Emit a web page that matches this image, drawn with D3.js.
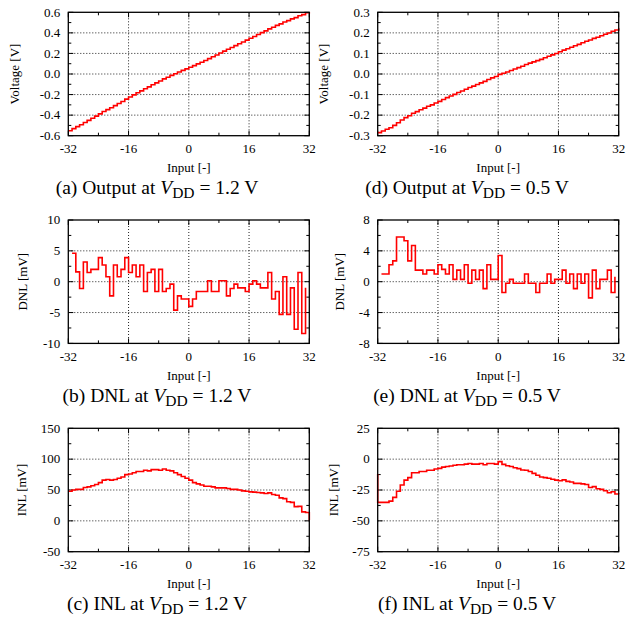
<!DOCTYPE html>
<html><head><meta charset="utf-8">
<script src="https://cdn.jsdelivr.net/npm/d3@7"></script>
<style>
body{margin:0;background:#fff}
text{font-family:"Liberation Serif","Times New Roman",serif;fill:#000}
</style>
</head><body>
<svg id="chart" width="629" height="619"></svg>
<script>
// ---------- data ----------
const xTicks = [-32, -16, 0, 16, 32];

// Output at VDD = 1.2 V (x = -32 .. 32)
const outHigh = [-0.552,-0.531,-0.512,-0.493,-0.471,-0.451,-0.431,-0.410,-0.388,-0.365,-0.346,-0.328,-0.308,-0.287,-0.267,-0.244,
  -0.224,-0.203,-0.183,-0.164,-0.143,-0.125,-0.105,-0.086,-0.068,-0.047,-0.031,-0.013,0.003,0.019,0.035,0.050,
  0.066,0.081,0.098,0.114,0.131,0.150,0.168,0.185,0.204,0.222,0.240,0.257,0.276,0.294,0.311,0.329,
  0.347,0.365,0.384,0.402,0.419,0.439,0.455,0.473,0.487,0.505,0.519,0.536,0.548,0.567,0.577,0.595,0.601];
// Output at VDD = 0.5 V (x = -32 .. 32)
const outLow = [-0.285,-0.277,-0.269,-0.261,-0.250,-0.237,-0.224,-0.212,-0.203,-0.191,-0.183,-0.174,-0.166,-0.157,-0.150,-0.141,
  -0.133,-0.124,-0.115,-0.107,-0.099,-0.090,-0.083,-0.074,-0.066,-0.059,-0.051,-0.043,-0.036,-0.027,-0.019,-0.012,
  -0.002,0.004,0.010,0.017,0.024,0.031,0.038,0.046,0.053,0.059,0.065,0.071,0.079,0.086,0.093,0.100,
  0.108,0.116,0.123,0.130,0.137,0.144,0.152,0.159,0.165,0.173,0.179,0.186,0.193,0.199,0.208,0.214,0.222];
// DNL [mV] at 1.2 V (x = -31 .. 31)
const dnlHigh = [4.6,1.6,-1.1,3.2,1.5,2.0,2.0,3.9,2.7,0.8,-2.3,2.7,0.8,2.0,3.9,1.5,
  2.7,0.8,2.7,-1.6,1.5,2.0,-1.6,2.0,-1.6,-1.1,-0.4,-4.6,-2.3,-2.8,-2.8,
  -4.0,-2.8,-1.6,-1.6,-1.6,0.15,-1.6,-1.6,0.15,0.15,-2.3,-1.1,-0.4,-1.0,-1.0,-1.6,
  -0.4,0.15,-0.4,-1.0,-1.0,1.5,-2.8,-1.6,-5.3,0.8,-5.3,-1.0,-7.7,1.5,-8.4,-1.0];
// DNL [mV] at 0.5 V (x = -31 .. 31)
const dnlLow = [1.0,1.0,2.2,2.7,5.8,5.8,5.3,2.7,4.7,1.5,1.5,1.0,1.5,1.5,1.0,2.2,
  1.6,1.0,2.2,0.3,1.5,0.3,2.2,-0.2,1.5,0.3,1.5,-0.9,2.2,0.3,0.3,
  3.4,-1.4,-0.2,0.3,-0.2,-0.2,-0.2,1.0,-0.2,-0.2,-1.4,-0.2,-0.2,1.0,-0.2,0.3,
  0.3,1.5,-0.2,1.0,-0.9,1.0,-0.2,1.0,-2.1,1.5,-0.9,0.3,0.3,1.5,-1.4,0.65];
// INL [mV] at 1.2 V (x = -32 .. 32)
const inlHigh = [48,50,51,51,54,55,57,59,62,66,67,66,67,69,71,75,
  76,78,80,80,82,81,83,83,82,84,82,81,78,75,72,69,
  66,62,60,58,56,56,55,53.5,53.5,53.5,52.4,51,51,50,48.6,48,
  47,46.5,46,45.4,44.3,45.4,42.7,41.6,37.3,36,31,30,23,23.5,14.6,13.5,1];
// INL [mV] at 0.5 V (x = -32 .. 32), starts from a first value at x = -32
const inlLowStart = -12;
const inlLow = [-35,-35,-35,-34,-31,-26,-21,-17,-15,-11,-11,-10,-10,-9,-9,-8,
  -7.5,-6.5,-6,-5.5,-5,-4.5,-4.5,-4,-3.5,-4,-4,-3.5,-4.5,-3.5,-3.5,-4,
  -2,-4.2,-5.3,-6,-7,-7.7,-8.8,-9,-10,-11.5,-13,-14.5,-15,-15.5,-16.3,-17,
  -17.5,-16.8,-18,-18.5,-19.6,-19.6,-20,-20.5,-23,-22.3,-24,-24.5,-25.6,-27.2,-26.4,-28.3,-28.5];

const yTicksA = [-0.6,-0.4,-0.2,0.0,0.2,0.4,0.6];
const yTicksD = [-0.3,-0.2,-0.1,0.0,0.1,0.2,0.3];
const yTicksB = [-10,-5,0,5,10];
const yTicksE = [-8,-4,0,4,8];
const yTicksC = [-50,0,50,100,150];
const yTicksF = [-75,-50,-25,0,25];

// ---------- layout ----------
const loc = d3.formatLocale({decimal:".", thousands:",", grouping:[3], currency:["",""], minus:"-"});
const f1 = loc.format(".1f"), f0 = loc.format("d");
const colX = [68.3, 377.7], plotW = 241;
const rowY = [12.3, 220, 428.3], plotH = 123.4;

const panels = [
  {col:0,row:0,vals:outHigh,x0:-32,ticks:yTicksA,fmt:f1,ylab:"Voltage [V]",ylx:15,cap:"(a) Output at ",v:"1.2 V"},
  {col:1,row:0,vals:outLow,x0:-32,ticks:yTicksD,fmt:f1,ylab:"Voltage [V]",ylx:324,cap:"(d) Output at ",v:"0.5 V"},
  {col:0,row:1,vals:dnlHigh,x0:-31,ticks:yTicksB,fmt:f0,ylab:"DNL [mV]",ylx:23,cap:"(b) DNL at ",v:"1.2 V"},
  {col:1,row:1,vals:dnlLow,x0:-31,ticks:yTicksE,fmt:f0,ylab:"DNL [mV]",ylx:340,cap:"(e) DNL at ",v:"0.5 V"},
  {col:0,row:2,vals:inlHigh,x0:-32,ticks:yTicksC,fmt:f0,ylab:"INL [mV]",ylx:22,cap:"(c) INL at ",v:"1.2 V"},
  {col:1,row:2,vals:inlLow,x0:-32,start:inlLowStart,ticks:yTicksF,fmt:f0,ylab:"INL [mV]",ylx:334,cap:"(f) INL at ",v:"0.5 V"}
];

const svg = d3.select("#chart");

panels.forEach(p => {
  const left = colX[p.col], top = rowY[p.row];
  const x = d3.scaleLinear().domain([-32,32]).range([left, left+plotW]);
  const y = d3.scaleLinear().domain([p.ticks[0], p.ticks[p.ticks.length-1]]).range([top+plotH, top]);
  const g = svg.append("g");

  // grid
  const xInner = xTicks.slice(1,-1), yInner = p.ticks.slice(1,-1);
  g.selectAll(null).data(xInner).enter().append("line")
    .attr("x1",d=>x(d)).attr("x2",d=>x(d)).attr("y1",top).attr("y2",top+plotH)
    .attr("stroke","#222").attr("stroke-width",1).attr("stroke-dasharray","1,2");
  g.selectAll(null).data(yInner).enter().append("line")
    .attr("y1",d=>y(d)).attr("y2",d=>y(d)).attr("x1",left).attr("x2",left+plotW)
    .attr("stroke","#222").attr("stroke-width",1).attr("stroke-dasharray","1,2");

  // ticks (inward, mirrored) major + minor
  const step = p.ticks[1]-p.ticks[0];
  const yMinor = p.ticks.slice(0,-1).map(t=>t+step/2);
  const xMinor = xTicks.slice(0,-1).map(t=>t+8);
  const tk = (vals, len) => {
    vals.forEach(v => {
      g.append("line").attr("x1",left).attr("x2",left+len).attr("y1",y(v)).attr("y2",y(v)).attr("stroke","#000");
      g.append("line").attr("x1",left+plotW).attr("x2",left+plotW-len).attr("y1",y(v)).attr("y2",y(v)).attr("stroke","#000");
    });
  };
  const tkx = (vals, len) => {
    vals.forEach(v => {
      g.append("line").attr("y1",top+plotH).attr("y2",top+plotH-len).attr("x1",x(v)).attr("x2",x(v)).attr("stroke","#000");
      g.append("line").attr("y1",top).attr("y2",top+len).attr("x1",x(v)).attr("x2",x(v)).attr("stroke","#000");
    });
  };
  tk(p.ticks,5); tk(yMinor,3); tkx(xTicks,5); tkx(xMinor,3);

  // data line
  const pts = [];
  if (p.start !== undefined) pts.push([-32, p.start]);
  p.vals.forEach((v,i)=>pts.push([p.x0+i, v]));
  g.append("path").datum(pts)
    .attr("d", d3.line().curve(d3.curveStepAfter).x(d=>x(d[0])).y(d=>y(d[1])))
    .attr("fill","none").attr("stroke","#ff0000").attr("stroke-width",1.6);

  // border
  g.append("rect").attr("x",left).attr("y",top).attr("width",plotW).attr("height",plotH)
    .attr("fill","none").attr("stroke","#000").attr("stroke-width",1.3);

  // tick labels
  g.selectAll(null).data(p.ticks).enter().append("text")
    .attr("x",left-8).attr("y",d=>y(d)).attr("dy","0.33em").attr("text-anchor","end")
    .attr("font-size",13).text(d=>p.fmt(d));
  g.selectAll(null).data(xTicks).enter().append("text")
    .attr("x",d=>x(d)).attr("y",top+plotH+17.5).attr("text-anchor","middle")
    .attr("font-size",13).text(d=>f0(d));

  // axis labels
  g.append("text").attr("x",left+plotW/2).attr("y",top+plotH+36.5).attr("text-anchor","middle")
    .attr("font-size",13).text("Input [-]");
  g.append("text").attr("transform",`translate(${p.ylx},${top+plotH/2}) rotate(-90)`)
    .attr("dy","0.33em").attr("text-anchor","middle").attr("font-size",13).text(p.ylab);

  // caption
  const cx = p.col===0 ? 157 : 467;
  const t = g.append("text").attr("x",cx).attr("y",top+181.5).attr("text-anchor","middle").attr("font-size",19.5);
  t.append("tspan").text(p.cap);
  t.append("tspan").attr("font-style","italic").text("V");
  t.append("tspan").attr("font-size",15.5).attr("dy",4).text("DD");
  t.append("tspan").attr("dy",-4).text(" = " + p.v);
});
</script>
</body></html>
